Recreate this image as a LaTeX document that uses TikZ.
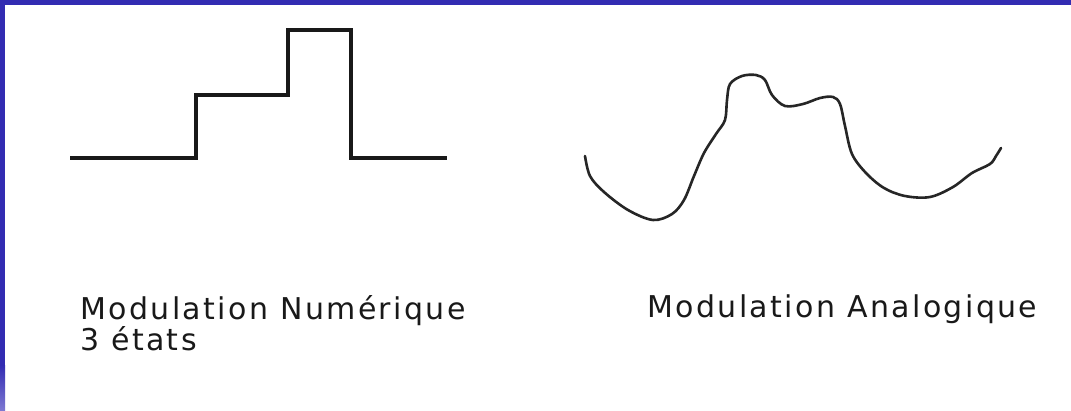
\documentclass[tikz,border=0pt]{standalone}
\usepackage{fontspec}
\setmainfont{DejaVu Sans}[LetterSpace=8]
\usepackage{xcolor}
\usepackage{tikz}
\usetikzlibrary{positioning}

\definecolor{framebleu}{RGB}{50,44,178}
\definecolor{framepale}{RGB}{125,120,210}

\begin{document}
\begin{tikzpicture}[
    x=1pt, y=-1pt,
    signal/.style={draw=black!90, line width=3.2pt, line join=miter},
    courbe/.style={draw=black!85, line width=2.6pt, line cap=round},
    legende/.style={font=\fontsize{30}{27}\selectfont, text=black!90, inner sep=0pt, align=left}
]
    % fond et cadre
    \useasboundingbox (0,0) rectangle (1071,410);
    \fill[white] (0,0) rectangle (1071,410);
    \fill[framebleu] (0,0) rectangle (1071,5);
    \fill[framebleu] (0,0) rectangle (5,365);
    \shade[top color=framebleu, bottom color=framepale] (0,365) rectangle (5,410);

    % signal numerique a 3 etats
    \draw[signal] (70,158) -- (196,158) -- (196,95) -- (288,95) -- (288,30)
        -- (351,30) -- (351,158) -- (447,158);

    % signal analogique
    \draw[courbe] plot[smooth, tension=0.55] coordinates {
        (585,156) (590,176) (604,192) (628,210) (653,220) (672,214) (684,200)
        (694,176) (704,153) (716,134) (725,120) (727,100) (730,84)
        (742,76) (756,75) (765,80) (772,95) (785,106) (803,104) (820,98)
        (833,97) (840,104) (845,126) (852,154) (866,173) (884,188) (905,196)
        (930,197) (953,187) (972,173) (990,164) (996,156) (1001,148)
    };

    % textes
    \node[legende, anchor=north west] (numtxt) at (80,295) {Modulation Numérique\\3 états};
    \node[legende, anchor=base west] (anatxt) at (647,317) {Modulation Analogique};
\end{tikzpicture}
\end{document}
